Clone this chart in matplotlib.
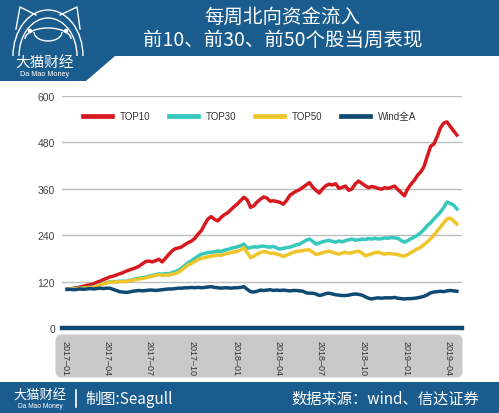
import matplotlib
matplotlib.use("Agg")
import matplotlib.pyplot as plt
from matplotlib.patches import Polygon, FancyBboxPatch, Arc, Circle
from matplotlib.lines import Line2D
import pandas as pd

# ---------------- data ----------------
start_date = "2017-01-06"
series_names = ["TOP10", "TOP30", "TOP50", "Wind全A"]

top10 = [100, 101, 103, 104, 106, 108, 110, 112, 114, 118,
         121, 125, 128, 132, 134, 137, 140, 143, 147, 150,
         153, 156, 160, 166, 172, 173, 171, 174, 178, 171,
         180, 190, 199, 205, 207, 210, 216, 221, 225, 232,
         243, 252, 268, 282, 288, 281, 277, 286, 293, 298,
         306, 314, 321, 330, 338, 331, 312, 316, 326, 333,
         339, 336, 328, 329, 327, 325, 320, 330, 343, 349,
         354, 358, 364, 370, 376, 364, 356, 349, 360, 368,
         372, 370, 373, 361, 364, 367, 356, 360, 373, 380,
         374, 368, 363, 366, 364, 361, 359, 363, 361, 364,
         367, 358, 350, 342, 360, 372, 382, 395, 404, 418,
         445, 470, 476, 495, 518, 530, 533, 521, 510, 499]

top30 = [100, 101, 101, 102, 103, 103, 104, 105, 106, 109,
         112, 115, 117, 119, 120, 120, 121, 121, 121, 123,
         125, 127, 129, 130, 132, 134, 136, 138, 140, 139,
         141, 140, 143, 146, 149, 155, 162, 169, 174, 180,
         186, 191, 193, 195, 196, 197, 199, 198, 201, 203,
         206, 208, 210, 213, 217, 206, 208, 210, 209, 211,
         212, 210, 209, 211, 207, 204, 206, 208, 209, 212,
         215, 217, 222, 227, 230, 224, 217, 220, 223, 225,
         227, 224, 222, 225, 223, 226, 228, 230, 227, 228,
         230, 229, 231, 230, 232, 230, 231, 233, 232, 234,
         233, 232, 226, 222, 226, 231, 235, 240, 247, 255,
         265, 272, 282, 291, 300, 312, 326, 322, 318, 308]

top50 = [100, 101, 101, 102, 102, 103, 104, 104, 105, 108,
         111, 114, 116, 118, 119, 119, 120, 120, 120, 122,
         124, 125, 127, 128, 130, 132, 134, 136, 138, 136,
         137, 137, 139, 141, 144, 150, 157, 163, 167, 172,
         177, 180, 182, 184, 186, 187, 189, 188, 191, 193,
         195, 197, 198, 202, 208, 195, 182, 186, 191, 195,
         198, 196, 193, 194, 191, 189, 185, 188, 192, 195,
         198, 199, 200, 202, 202, 196, 190, 192, 195, 197,
         199, 196, 193, 191, 194, 196, 193, 195, 197, 199,
         194, 187, 189, 192, 195, 196, 193, 191, 193, 192,
         191, 190, 187, 186, 190, 195, 200, 205, 209, 216,
         223, 231, 240, 251, 261, 272, 282, 284, 277, 269]

wind_a = [100, 100, 99, 100, 101, 100, 101, 102, 101, 102,
          103, 102, 103, 103, 100, 97, 94, 93, 92, 93,
          95, 96, 97, 96, 97, 98, 98, 97, 98, 99,
          100, 101, 101, 102, 103, 103, 104, 104, 105, 104,
          105, 104, 105, 106, 107, 105, 104, 103, 104, 104,
          103, 104, 104, 105, 107, 100, 94, 93, 95, 98,
          97, 98, 99, 97, 98, 97, 98, 97, 96, 97,
          97, 96, 95, 91, 90, 90, 88, 84, 86, 89,
          90, 88, 86, 85, 84, 84, 85, 87, 88, 87,
          85, 81, 77, 75, 77, 78, 77, 78, 78, 78,
          79, 77, 76, 75, 76, 76, 77, 78, 80, 82,
          86, 91, 93, 94, 95, 94, 96, 97, 96, 95]

y_ticks = [0, 120, 240, 360, 480, 600]
x_tick_labels = ["2017-01", "2017-04", "2017-07", "2017-10", "2018-01",
                 "2018-04", "2018-07", "2018-10", "2019-01", "2019-04"]

title_lines = ["每周北向资金流入", "前10、前30、前50个股当周表现"]
logo_cn = "大猫财经"
logo_en = "Da Mao Money"
credit = "制图:Seagull"
source = "数据来源：wind、信达证券"

# ---------------- style ----------------
W, H = 499, 414
BLUE = "#1b5c8f"
colors = ["#d7191f", "#35c8bd", "#efc52b", "#0f4a73"]
CJK = ["Noto Sans CJK SC", "DejaVu Sans"]
LAT = ["Liberation Sans", "Noto Sans CJK SC", "DejaVu Sans"]

fig = plt.figure(figsize=(W / 100, H / 100), dpi=100)
fig.patch.set_facecolor("white")

# background / decoration axes in pixel coordinates
bg = fig.add_axes([0, 0, 1, 1], zorder=0)
bg.set_xlim(0, W)
bg.set_ylim(H, 0)
bg.axis("off")

# header band with the logo tab
bg.add_patch(Polygon([(0, 0), (W, 0), (W, 57), (115, 57), (86, 82), (0, 82)],
                     closed=True, facecolor=BLUE, edgecolor="none"))
# footer band
bg.add_patch(Polygon([(0, 383), (W, 383), (W, H), (0, H)], closed=True,
                     facecolor=BLUE, edgecolor="none"))
# grey rounded box behind the date labels
bg.add_patch(FancyBboxPatch((58, 338), 402, 38,
                            boxstyle="round,pad=2.5,rounding_size=6",
                            facecolor="#c9c9c9", edgecolor="none"))

# logo (simple line drawing of the cat face)
lw_logo = 1.0
bg.add_patch(Arc((48, 57), 70, 92, theta1=180, theta2=360, color="white", lw=lw_logo))
bg.add_patch(Arc((48, 57), 58, 76, theta1=180, theta2=360, color="white", lw=lw_logo))
bg.add_line(Line2D([16, 20, 36], [30, 8, 16], color="white", lw=lw_logo))
bg.add_line(Line2D([60, 77, 80], [16, 8, 30], color="white", lw=lw_logo))
bg.add_patch(Arc((48, 40), 46, 22, theta1=180, theta2=360, color="white", lw=lw_logo))
bg.add_patch(Arc((48, 33), 28, 18, theta1=0, theta2=180, color="white", lw=lw_logo))
bg.add_patch(Circle((30, 32), 1.6, color="white"))
bg.add_patch(Circle((66, 32), 1.6, color="white"))
bg.text(45, 63, logo_cn, color="white", fontsize=10.5, family=CJK,
        ha="center", va="center")
bg.text(45, 75, logo_en, color="white", fontsize=5.2, family=LAT,
        ha="center", va="center")

# title
bg.text(282, 17, title_lines[0], color="white", fontsize=14, family=CJK,
        weight="medium", ha="center", va="center")
bg.text(283, 40, title_lines[1], color="white", fontsize=14, family=CJK,
        weight="medium", ha="center", va="center")

# footer texts
bg.text(40, 396, logo_cn, color="white", fontsize=9.5, family=CJK,
        ha="center", va="center")
bg.text(40, 407, logo_en, color="white", fontsize=4.8, family=LAT,
        ha="center", va="center")
bg.add_line(Line2D([76, 76], [391, 408], color="white", lw=1.2))
bg.text(85, 399, credit, color="white", fontsize=11, family=CJK,
        ha="left", va="center")
bg.text(479, 399, source, color="white", fontsize=11, family=CJK,
        ha="right", va="center")

# ---------------- main chart ----------------
left, right = 62 / W, 462 / W
bottom, top = 1 - 329 / H, 1 - 97 / H
ax = fig.add_axes([left, bottom, right - left, top - bottom], zorder=1)
ax.patch.set_alpha(0)

dates = pd.date_range(start_date, periods=len(top10), freq="7D")
all_series = [top10, top30, top50, wind_a]
for name, vals, c in zip(series_names, all_series, colors):
    ax.plot(dates, vals, color=c, lw=2.5, label=name, solid_joinstyle="round",
            zorder=3)

ax.set_ylim(0, 600)
ax.set_xlim(pd.Timestamp("2016-12-26"), pd.Timestamp("2019-04-30"))
ax.set_yticks(y_ticks)
ax.set_yticklabels([str(v) for v in y_ticks], fontsize=7.5, color="#444444",
                   family=LAT)
ax.yaxis.grid(True, color="#bdbdbd", lw=1.0, zorder=1)
ax.set_axisbelow(True)
ax.tick_params(axis="y", length=0, pad=5)

tick_dates = [pd.Timestamp(s + "-01") for s in x_tick_labels]
ax.set_xticks(tick_dates)
ax.set_xticklabels([s.replace("-", "–") for s in x_tick_labels], rotation=270,
                   fontsize=6.5, color="#333333", family=LAT,
                   ha="center", va="top")
ax.tick_params(axis="x", length=0, pad=9)

for s in ax.spines.values():
    s.set_visible(False)
ax.axhline(0, color="#0f4a73", lw=3.2, clip_on=False, zorder=4)

leg = ax.legend(loc="center left", bbox_to_anchor=(83 / W, 1 - 117 / H),
                bbox_transform=fig.transFigure, ncol=4, frameon=False,
                prop={"family": LAT, "size": 7}, handlelength=3.0,
                handletextpad=0.8, columnspacing=1.9, borderaxespad=0,
                borderpad=0)
for line in leg.get_lines():
    line.set_linewidth(3.4)
for t in leg.get_texts():
    t.set_color("#333333")

fig.savefig("out.png", dpi=100, facecolor="white")
